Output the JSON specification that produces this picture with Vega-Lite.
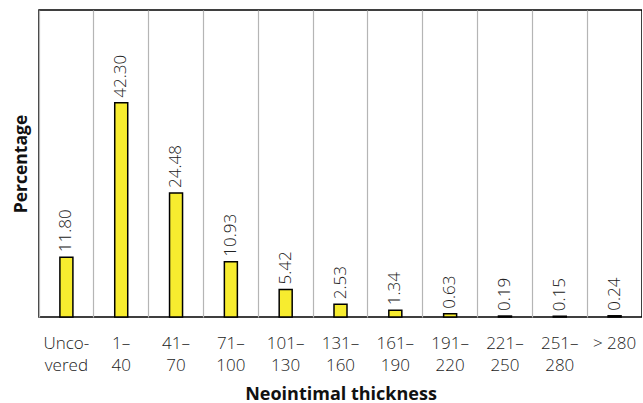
{
  "$schema": "https://vega.github.io/schema/vega-lite/v6.json",
  "autosize": {"type": "none"},
  "padding": {"left": 39, "top": 10, "right": 0, "bottom": 86},
  "width": 603,
  "height": 307,
  "config": {
    "font": "Open Sans",
    "view": {"stroke": "#000", "strokeWidth": 1.5},
    "background": "#ffffff"
  },
  "data": {
    "values": [
      {"group": "Unco-|vered", "pct": 11.80},
      {"group": "1–|40", "pct": 42.30},
      {"group": "41–|70", "pct": 24.48},
      {"group": "71–|100", "pct": 10.93},
      {"group": "101–|130", "pct": 5.42},
      {"group": "131–|160", "pct": 2.53},
      {"group": "161–|190", "pct": 1.34},
      {"group": "191–|220", "pct": 0.63},
      {"group": "221–|250", "pct": 0.19},
      {"group": "251–|280", "pct": 0.15},
      {"group": "> 280", "pct": 0.24}
    ]
  },
  "encoding": {
    "x": {
      "field": "group",
      "type": "nominal",
      "sort": null,
      "scale": {"paddingInner": 0, "paddingOuter": 0},
      "axis": {
        "title": "Neointimal thickness",
        "titleFontSize": 18,
        "titleFontWeight": "bold",
        "titleColor": "#111",
        "titlePadding": 12,
        "labelExpr": "split(datum.value, '|')",
        "labelAngle": 0,
        "labelFontSize": 17,
        "labelFontWeight": 300,
        "labelColor": "#222",
        "labelLineHeight": 22,
        "labelPadding": 26,
        "labelBaseline": "middle",
        "ticks": false,
        "domain": false,
        "grid": true,
        "gridColor": "#b5b5b5",
        "gridWidth": 1.2,
        "bandPosition": 0
      }
    },
    "y": {
      "field": "pct",
      "type": "quantitative",
      "scale": {"domain": [0, 60.6], "nice": false},
      "axis": {
        "title": "Percentage",
        "titleFontSize": 17.5,
        "titleFontWeight": "bold",
        "titleColor": "#111",
        "titlePadding": 9,
        "labels": false,
        "ticks": false,
        "domain": false,
        "grid": false
      }
    }
  },
  "layer": [
    {
      "mark": {"type": "bar", "width": 13, "color": "#f7ec2f", "stroke": "#000", "strokeWidth": 1.5}
    },
    {
      "mark": {"type": "text", "angle": 270, "align": "left", "baseline": "middle", "dx": 5, "fontSize": 17, "fontWeight": 300, "color": "#222"},
      "encoding": {"text": {"field": "pct", "type": "quantitative", "format": ".2f"}}
    }
  ]
}
